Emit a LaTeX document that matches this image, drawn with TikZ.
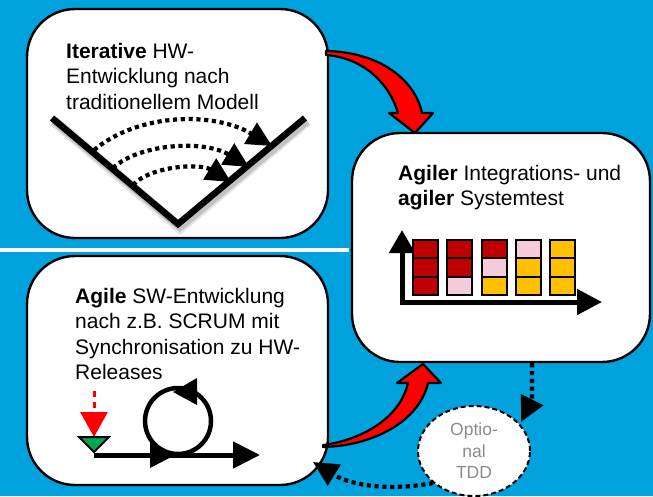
\documentclass[tikz,border=0pt]{standalone}
\usepackage{fontspec}
\setmainfont{Liberation Sans}
\usetikzlibrary{arrows.meta,shapes.geometric,calc}

\definecolor{bgblue}{RGB}{0,162,222}
\definecolor{barred}{RGB}{192,0,0}
\definecolor{barpink}{RGB}{244,204,220}
\definecolor{bargold}{RGB}{255,192,0}
\definecolor{startgreen}{RGB}{0,166,81}
\definecolor{optgray}{RGB}{140,140,140}

\tikzset{
  panel/.style={draw=black, line width=2.4pt, fill=white, rounded corners=48pt,
    minimum width=301pt, minimum height=229pt, inner sep=0pt},
  txt/.style={anchor=north west, inner sep=0pt, align=left,
    font=\fontsize{21pt}{25.3pt}\selectfont},
  vline/.style={line width=6.5pt, line join=miter},
  arcarrow/.style={line width=4.2pt, dash pattern=on 4.2pt off 3.6pt,
    -{Triangle[length=25pt,width=24pt]}},
  dotarrow/.style={line width=4.2pt, dash pattern=on 4.2pt off 3.6pt,
    -{Triangle[length=25pt,width=24pt]}},
  redarrow/.style={fill=red, draw=black, line width=2.2pt, line join=round},
  cell/.style={draw=black, line width=1.8pt},
  axis/.style={line width=5pt, line join=miter,
    {Triangle[length=23pt,width=25pt]}-{Triangle[length=25pt,width=25pt]}},
}

\begin{document}
\begin{tikzpicture}[x=1pt,y=-1pt]
\useasboundingbox (0,0) rectangle (653,496);
\fill[bgblue] (0,0) rectangle (653,496);
% separator between hardware and software half
\fill[white] (0,248.3) rectangle (349,251.5);

% --- panels
\node[panel] (hw)  at (177.5,123.5) {};
\node[panel] (sw)  at (177.5,370.5) {};
\node[panel, minimum width=298pt] (sys) at (501,247.5) {};

% --- panel texts
\node[txt] (hwtext) at (66,43) {\textbf{Iterative} HW-\\Entwicklung nach\\traditionellem Modell};
\node[txt] (systext) at (398,165) {\textbf{Agiler} Integrations- und\\\textbf{agiler} Systemtest};
\node[txt] (swtext) at (75,288) {\textbf{Agile} SW-Entwicklung\\nach z.B. SCRUM mit\\Synchronisation zu HW-\\Releases};

% --- V model with iteration loops (soft shadow first)
\draw[vline, black, opacity=0.10, line width=11pt] (54,121) -- (180,228) -- (307,121);
\draw[vline, black, opacity=0.15, line width=8pt] (54,121) -- (180,227) -- (307,121);
\draw[vline] (52,118) -- (178,224) -- (305,118);
\draw[arcarrow] (94,150) .. controls (140,112) and (215,112) .. (272,146);
\draw[arcarrow] (113,168) .. controls (140,143) and (205,140) .. (249,167);
\draw[arcarrow] (133,185) .. controls (150,166) and (200,163) .. (231,182);

% --- test progress chart
\draw[axis] (402,230) -- (402,302) -- (602,302);
\foreach \c/\ca/\cb/\cc in {0/barred/barred/barred, 1/barred/barred/barpink,
    2/barred/barpink/bargold, 3/barpink/bargold/bargold, 4/bargold/bargold/bargold} {
  \draw[cell, fill=\ca] (413+34.3*\c,240)   rectangle ++(25,18.3);
  \draw[cell, fill=\cb] (413+34.3*\c,258.3) rectangle ++(25,18.3);
  \draw[cell, fill=\cc] (413+34.3*\c,276.6) rectangle ++(25,18.3);
}

% --- sprint loop
\draw[red, line width=3pt, dash pattern=on 6pt off 5pt,
  -{Triangle[length=25pt,width=27pt]}] (94,391) -- (94,437);
\filldraw[fill=startgreen, draw=black, line width=2pt, line join=miter]
  (79,437) -- (109,437) -- (94,452) -- cycle;
\draw[line width=5pt, -{Triangle[length=27pt,width=26pt]}] (94,455) -- (260,455);
\coordinate (loopc) at (178,421);
\draw[line width=4.5pt] (loopc) circle[radius=33];
\fill ($(loopc)+(-5,-29)$) -- ($(loopc)+(19,-43)$) -- ($(loopc)+(19,-16)$) -- cycle;
\fill ($(loopc)+(-3,34)$) -- ($(loopc)+(-28,21)$) -- ($(loopc)+(-28,47)$) -- cycle;

% --- optional TDD
\node[ellipse, draw=black, line width=2pt, dash pattern=on 5pt off 3pt, fill=white,
  minimum width=112pt, minimum height=90pt, inner sep=0pt, align=center,
  text=optgray, font=\fontsize{17.5pt}{21.5pt}\selectfont] (tdd) at (474,451) {Optio-\\nal\\TDD};

% --- hand-over arrows
\filldraw[redarrow] (326,51) .. controls (380,52) and (415,80) .. (422,113)
  -- (433,113) -- (415,133) -- (389,113) -- (398,113)
  .. controls (390,85) and (365,58) .. (326,55) -- cycle;
\filldraw[redarrow] (323,447) .. controls (372,446) and (419,422) .. (428,383)
  -- (441,383) -- (423,364) -- (397,383) -- (408,383)
  .. controls (400,418) and (362,440) .. (323,445) -- cycle;

\coordinate (swtip) at (313,462);
\draw[dotarrow] ([xshift=31pt]sys.south) .. controls (532,400) .. (521,422);
\draw[dotarrow] (tdd.218) .. controls (392,491) and (352,486) .. (swtip);
\end{tikzpicture}
\end{document}
